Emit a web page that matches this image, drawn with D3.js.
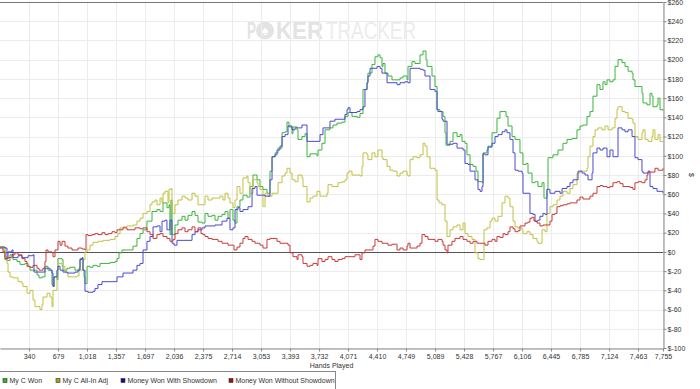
<!DOCTYPE html>
<html>
<head>
<meta charset="utf-8">
<script src="https://cdn.jsdelivr.net/npm/d3@7"></script>
<style>
    html, body { margin: 0; padding: 0; background: #fff; }
    svg { display: block; font-family: "Liberation Sans", Arial, sans-serif; }
</style>
</head>
<body>
<div id="chart"></div>
<script>
// tick labels
const handTicks = [340, 679, 1018, 1357, 1697, 2036, 2375, 2714, 3053, 3393, 3732, 4071,
    4410, 4749, 5089, 5428, 5767, 6106, 6445, 6785, 7124, 7463, 7755];
const dollarTicks = [-100, -80, -60, -40, -20, 0, 20, 40, 60, 80, 100, 120, 140,
    160, 180, 200, 220, 240, 260];

const seriesNames = ['My C Won', 'My C All-In Adj', 'Money Won With Showdown', 'Money Won Without Showdown'];

// [hand, $]
const myCWon = [[0,5],[35,5],[58,-8],[82,-9],[117,-3],[152,-8],[199,-10],[234,-13],[292,-12],[328,-15],
    [351,-19],[386,-19],[433,-24],[456,-27],[491,-26],[526,-15],[561,-19],[597,-19],[608,-34],[620,-36],
    [632,-26],[667,-29],[678,-7],[725,-8],[737,-19],[784,-17],[819,-16],[877,-19],[924,-17],[936,-7],
    [959,-7],[971,-19],[983,-26],[994,-33],[1018,-15],[1053,-16],[1088,-14],[1135,-15],[1170,-12],[1228,-12],
    [1287,-11],[1345,-10],[1369,-7],[1392,-1],[1427,2],[1486,2],[1556,6],[1602,14],[1638,19],[1673,23],
    [1719,32],[1778,42],[1836,44],[1872,42],[1907,51],[1953,46],[1977,49],[1988,18],[2000,54],[2012,18],
    [2047,28],[2082,33],[2129,37],[2164,33],[2199,38],[2246,42],[2281,38],[2316,31],[2363,30],[2398,40],
    [2433,37],[2480,38],[2515,33],[2550,37],[2597,39],[2632,42],[2667,35],[2690,44],[2725,33],[2749,30],
    [2772,47],[2807,54],[2842,59],[2889,57],[2924,68],[2959,80],[3006,75],[3041,68],[3076,65],[3123,61],
    [3158,84],[3182,99],[3217,103],[3252,108],[3299,124],[3334,125],[3357,135],[3380,130],[3416,123],[3427,130],
    [3474,127],[3486,117],[3532,120],[3568,123],[3591,99],[3626,102],[3708,100],[3720,106],[3766,113],[3802,127],
    [3860,129],[3895,132],[3942,134],[4000,135],[4035,141],[4071,145],[4117,141],[4176,140],[4211,144],[4246,169],
    [4293,176],[4304,186],[4351,195],[4386,203],[4421,205],[4445,202],[4468,193],[4480,196],[4503,186],[4538,183],
    [4585,179],[4679,181],[4714,183],[4761,179],[4772,193],[4819,198],[4854,196],[4913,205],[4948,209],[4983,200],
    [4995,193],[5053,183],[5088,172],[5112,148],[5147,146],[5182,141],[5205,124],[5217,111],[5264,115],[5299,124],
    [5346,120],[5381,122],[5404,115],[5439,113],[5462,101],[5498,91],[5533,89],[5568,84],[5591,73],[5638,72],
    [5650,103],[5696,106],[5708,110],[5755,124],[5813,139],[5848,146],[5884,146],[5919,141],[5942,131],[5989,120],
    [6024,117],[6059,117],[6082,103],[6117,91],[6153,92],[6176,82],[6223,72],[6258,73],[6293,68],[6340,72],
    [6363,56],[6398,65],[6410,98],[6468,101],[6527,106],[6585,113],[6632,117],[6691,118],[6749,127],[6784,131],
    [6819,132],[6866,141],[6901,146],[6936,162],[6983,174],[7018,169],[7053,177],[7077,174],[7100,179],[7135,177],
    [7170,179],[7194,193],[7229,200],[7276,197],[7311,193],[7346,188],[7393,186],[7404,179],[7427,172],[7463,172],
    [7509,165],[7521,155],[7568,153],[7603,165],[7626,162],[7638,151],[7685,153],[7697,160],[7720,148],[7755,147]];

const myCAllInAdj = [[0,4],[35,2],[58,-5],[82,-12],[94,-21],[117,-26],[152,-27],[211,-31],[257,-33],[269,-36],
    [316,-43],[351,-40],[386,-50],[409,-57],[444,-57],[468,-60],[491,-55],[503,-47],[550,-43],[585,-47],
    [608,-57],[620,-40],[667,-19],[678,-12],[725,-15],[760,-21],[795,-26],[842,-26],[901,-25],[924,-19],
    [959,-19],[971,-8],[994,0],[1018,2],[1053,7],[1088,10],[1146,11],[1205,12],[1287,13],[1345,16],
    [1380,19],[1404,25],[1439,26],[1486,27],[1556,28],[1602,32],[1638,35],[1673,40],[1719,42],[1755,49],
    [1778,52],[1813,54],[1836,49],[1872,56],[1895,51],[1907,61],[1930,63],[1965,51],[1977,65],[2000,66],
    [2012,40],[2047,49],[2082,54],[2129,58],[2164,56],[2199,54],[2246,61],[2281,58],[2316,49],[2363,49],
    [2398,58],[2433,54],[2480,56],[2515,56],[2573,58],[2608,54],[2632,61],[2667,56],[2690,51],[2725,46],
    [2749,54],[2772,68],[2807,61],[2842,77],[2889,79],[2901,72],[2924,61],[2959,75],[3006,72],[3018,68],
    [3041,65],[3076,47],[3100,61],[3135,58],[3182,61],[3217,61],[3252,72],[3299,79],[3334,82],[3357,87],
    [3392,82],[3416,75],[3451,73],[3486,80],[3532,77],[3544,68],[3591,52],[3626,56],[3661,58],[3708,63],
    [3743,58],[3778,58],[3825,61],[3837,70],[3883,68],[3918,68],[3954,72],[4000,73],[4035,75],[4059,82],
    [4082,84],[4117,80],[4152,80],[4211,79],[4234,89],[4246,103],[4293,101],[4304,96],[4351,103],[4386,99],
    [4421,106],[4468,98],[4480,96],[4527,89],[4562,85],[4597,84],[4644,79],[4679,82],[4714,84],[4761,80],
    [4772,79],[4796,96],[4831,99],[4878,98],[4913,101],[4948,113],[4971,110],[4995,99],[5030,87],[5088,85],
    [5112,54],[5135,51],[5170,49],[5205,32],[5229,16],[5264,23],[5299,26],[5346,28],[5381,23],[5416,30],
    [5439,19],[5474,16],[5521,13],[5556,-1],[5591,-7],[5615,-8],[5650,-8],[5661,23],[5696,25],[5732,32],
    [5755,35],[5790,32],[5825,37],[5872,51],[5907,58],[5942,56],[5965,47],[6001,32],[6024,26],[6059,25],
    [6106,23],[6117,19],[6164,21],[6199,18],[6234,14],[6281,11],[6293,9],[6340,23],[6375,21],[6398,40],
    [6433,47],[6468,49],[6515,54],[6550,58],[6585,63],[6632,61],[6667,66],[6702,70],[6749,82],[6784,84],
    [6819,84],[6866,87],[6878,99],[6901,110],[6936,120],[6960,127],[6995,129],[7042,127],[7077,131],[7112,127],
    [7159,129],[7194,139],[7217,148],[7229,151],[7276,146],[7311,145],[7346,139],[7393,138],[7404,134],[7427,120],
    [7463,117],[7509,124],[7521,127],[7545,117],[7580,115],[7626,120],[7638,127],[7661,117],[7697,122],[7720,115],
    [7755,115]];

const wonWithShowdown = [[0,5],[58,4],[82,-7],[94,0],[140,2],[152,-6],[211,-4],[257,-6],[316,-6],[328,-4],
    [386,-3],[398,-21],[503,-21],[526,-17],[561,-17],[585,-19],[608,-22],[620,-36],[632,-26],[667,-19],
    [678,-15],[702,-19],[737,-21],[784,-22],[877,-21],[912,-19],[936,-8],[959,-6],[971,-19],[994,-41],
    [1029,-42],[1088,-41],[1111,-38],[1146,-34],[1193,-31],[1322,-31],[1369,-26],[1404,-26],[1439,-22],[1497,-22],
    [1556,-19],[1602,-14],[1638,-12],[1673,2],[1719,11],[1755,16],[1790,26],[1836,27],[1872,21],[1895,32],
    [1930,33],[1953,23],[1977,23],[1988,33],[2012,9],[2035,7],[2070,12],[2222,12],[2246,18],[2281,21],
    [2316,23],[2363,25],[2398,27],[2515,28],[2597,32],[2655,35],[2690,23],[2725,25],[2749,44],[2784,46],
    [2807,42],[2842,44],[2901,47],[2948,66],[2983,68],[3006,59],[3065,59],[3100,58],[3135,58],[3158,75],
    [3182,99],[3217,101],[3240,106],[3275,110],[3299,120],[3334,122],[3369,131],[3416,127],[3451,129],[3509,129],
    [3532,132],[3568,132],[3591,115],[3720,115],[3743,122],[3778,129],[3837,129],[3860,136],[3918,138],[3977,138],
    [4035,143],[4059,148],[4071,150],[4094,145],[4129,145],[4176,146],[4211,148],[4246,151],[4269,169],[4293,176],
    [4304,183],[4328,191],[4363,191],[4410,193],[4445,191],[4468,186],[4503,186],[4527,176],[4562,176],[4644,174],
    [4679,176],[4737,177],[4772,176],[4796,191],[4831,191],[4878,191],[4913,190],[4948,189],[4971,183],[5006,183],
    [5030,169],[5065,169],[5088,167],[5112,148],[5123,146],[5170,138],[5182,136],[5229,112],[5264,112],[5299,113],
    [5346,108],[5381,108],[5416,106],[5439,92],[5474,91],[5498,84],[5533,84],[5556,75],[5591,65],[5615,63],
    [5638,68],[5650,102],[5673,101],[5708,109],[5755,113],[5790,120],[5825,122],[5872,125],[5907,127],[5930,124],
    [5965,117],[6001,103],[6024,85],[6059,84],[6106,82],[6117,61],[6176,61],[6199,40],[6234,39],[6258,32],
    [6293,33],[6316,37],[6351,40],[6375,39],[6398,65],[6433,61],[6492,63],[6550,61],[6574,66],[6632,68],
    [6667,72],[6702,75],[6749,75],[6761,84],[6808,82],[6843,80],[6878,75],[6925,82],[6936,103],[6983,108],
    [7018,106],[7053,108],[7100,99],[7135,106],[7170,99],[7194,99],[7229,129],[7276,127],[7311,125],[7346,127],
    [7393,120],[7427,98],[7463,96],[7509,84],[7521,82],[7568,82],[7580,84],[7603,68],[7638,66],[7685,63],
    [7755,61]];

const wonWithoutShowdown = [[0,4],[35,0],[58,-7],[94,-6],[140,-3],[175,-1],[211,-3],[257,-7],[292,-10],[316,-15],
    [351,-16],[386,-14],[433,-17],[456,-19],[503,-17],[526,-10],[538,2],[561,0],[608,-1],[620,-5],
    [643,2],[678,11],[702,7],[725,11],[760,6],[795,4],[842,2],[877,2],[912,4],[959,3],
    [994,2],[1006,18],[1029,17],[1076,18],[1111,19],[1146,18],[1193,20],[1228,18],[1263,19],[1310,21],
    [1345,20],[1369,23],[1404,23],[1439,25],[1486,23],[1544,23],[1579,25],[1638,24],[1673,25],[1719,21],
    [1755,18],[1790,14],[1836,18],[1872,19],[1907,16],[1953,14],[1988,11],[2024,13],[2047,19],[2082,23],
    [2129,25],[2164,21],[2199,23],[2246,26],[2281,21],[2316,25],[2351,19],[2374,18],[2398,16],[2433,14],
    [2480,13],[2515,13],[2550,11],[2597,9],[2632,9],[2667,7],[2714,7],[2737,2],[2772,5],[2807,9],
    [2842,14],[2866,16],[2901,13],[2948,11],[2983,9],[3041,7],[3076,4],[3123,13],[3158,14],[3193,14],
    [3240,11],[3275,9],[3334,9],[3369,7],[3392,-1],[3427,-5],[3474,-8],[3486,-3],[3532,-5],[3544,-12],
    [3591,-15],[3626,-14],[3661,-12],[3708,-14],[3720,-7],[3766,-10],[3802,-8],[3837,-5],[3883,-8],[3918,-10],
    [3954,-8],[4000,-7],[4035,-5],[4094,-5],[4152,-3],[4211,-8],[4234,-1],[4269,2],[4328,2],[4363,6],
    [4386,13],[4421,11],[4468,9],[4503,9],[4538,7],[4585,8],[4644,2],[4679,4],[4714,2],[4761,6],
    [4772,9],[4796,4],[4831,4],[4878,6],[4913,9],[4936,18],[4971,16],[5006,13],[5053,13],[5088,11],
    [5123,13],[5170,11],[5182,7],[5205,2],[5229,-1],[5240,7],[5287,11],[5322,14],[5357,14],[5381,16],
    [5416,13],[5462,11],[5498,9],[5533,11],[5579,9],[5638,9],[5673,7],[5708,11],[5755,13],[5790,11],
    [5813,16],[5848,15],[5884,19],[5907,18],[5942,21],[5965,26],[6001,24],[6024,21],[6059,22],[6082,27],
    [6106,27],[6141,30],[6176,31],[6199,35],[6223,36],[6246,32],[6281,30],[6316,27],[6351,28],[6398,28],
    [6433,32],[6457,39],[6492,40],[6515,47],[6550,48],[6585,49],[6632,50],[6667,51],[6702,51],[6749,54],
    [6784,57],[6819,55],[6866,55],[6901,58],[6936,61],[6983,68],[7018,69],[7053,68],[7100,67],[7135,68],
    [7170,72],[7217,73],[7252,71],[7287,68],[7334,68],[7369,67],[7404,65],[7427,72],[7463,73],[7509,72],
    [7545,75],[7568,80],[7580,83],[7626,83],[7661,87],[7697,85],[7755,87]];

const lineColors = ['#3cb43c', '#c2c143', '#4a4ad2', '#c83a3a'];
const legendColors = ['#22bb22', '#a9a800', '#10108f', '#a01010'];

const width = 700,
    height = 389,
    plotRight = 663,
    plotTop = 2,
    plotBottom = 348;

const x = d3.scaleLinear().domain([0, 7755]).range([0, plotRight]);
const y = d3.scaleLinear().domain([-100, 260]).range([plotBottom, plotTop]);

const svg = d3.select('#chart')
    .append('svg')
    .attr('width', width)
    .attr('height', height)
    .style('font-size', '7px');

// watermark
const wm = svg.append('g').attr('fill', '#e3e3e3');
wm.append('text').attr('x', 247).attr('y', 39).style('font-size', '24px').style('font-weight', 'bold')
    .attr('textLength', 9).attr('lengthAdjust', 'spacingAndGlyphs').text('P');
wm.append('circle').attr('cx', 265).attr('cy', 30.5).attr('r', 9);
wm.append('text').attr('x', 265).attr('y', 35).attr('text-anchor', 'middle').attr('fill', '#fff')
    .style('font-size', '13px').text('♠');
wm.append('text').attr('x', 276).attr('y', 39).style('font-size', '24px').style('font-weight', 'bold')
    .attr('textLength', 47).attr('lengthAdjust', 'spacingAndGlyphs').text('KER');
wm.append('text').attr('x', 326).attr('y', 39).attr('fill', '#ececec').style('font-size', '24px')
    .attr('textLength', 90).attr('lengthAdjust', 'spacingAndGlyphs').text('TRACKER');

// grid
svg.append('g')
    .selectAll('line')
    .data(dollarTicks)
    .join('line')
    .attr('x1', 0).attr('x2', plotRight)
    .attr('y1', d => Math.round(y(d)) + 0.5).attr('y2', d => Math.round(y(d)) + 0.5)
    .attr('stroke', '#ececec');

svg.append('g')
    .selectAll('line')
    .data(handTicks)
    .join('line')
    .attr('x1', d => Math.round(x(d)) + 0.5).attr('x2', d => Math.round(x(d)) + 0.5)
    .attr('y1', plotTop).attr('y2', plotBottom)
    .attr('stroke', '#ececec');

// top border and zero line
svg.append('line')
    .attr('x1', 0).attr('x2', plotRight)
    .attr('y1', Math.round(y(260)) + 0.5).attr('y2', Math.round(y(260)) + 0.5)
    .attr('stroke', '#777');

svg.append('line')
    .attr('x1', 0).attr('x2', plotRight)
    .attr('y1', Math.round(y(0)) + 0.5).attr('y2', Math.round(y(0)) + 0.5)
    .attr('stroke', '#555');

// series
const line = d3.line()
    .x(d => x(d[0]))
    .y(d => y(d[1]))
    .curve(d3.curveStepAfter);

const allSeries = [myCWon, myCAllInAdj, wonWithShowdown, wonWithoutShowdown];

svg.append('g')
    .selectAll('path')
    .data(allSeries)
    .join('path')
    .attr('fill', 'none')
    .attr('stroke', (d, i) => lineColors[i])
    .attr('stroke-width', 1)
    .attr('d', line);

// axes
const yAxis = svg.append('g')
    .attr('transform', `translate(${plotRight + 0.5},0)`)
    .call(d3.axisRight(y)
        .tickValues(dollarTicks)
        .tickSize(3)
        .tickSizeOuter(0)
        .tickPadding(1)
        .tickFormat(d => '$' + d));

const xAxis = svg.append('g')
    .attr('transform', `translate(0,${plotBottom + 0.5})`)
    .call(d3.axisBottom(x)
        .tickValues(handTicks)
        .tickSize(3)
        .tickSizeOuter(0)
        .tickPadding(2.5)
        .tickFormat(d3.format(',')));

[yAxis, xAxis].forEach(g => {
    g.attr('font-size', null).attr('font-family', null);
    g.select('.domain').attr('stroke', '#888');
    g.selectAll('.tick line').attr('stroke', '#888');
    g.selectAll('.tick text').attr('fill', '#333');
});

svg.append('text')
    .attr('x', plotRight / 2)
    .attr('y', 367.5)
    .attr('text-anchor', 'middle')
    .attr('fill', '#333')
    .text('Hands Played');

svg.append('text')
    .attr('transform', `translate(689,${(plotTop + plotBottom) / 2}) rotate(90)`)
    .attr('text-anchor', 'middle')
    .attr('fill', '#333')
    .text('$');

// legend
const legend = svg.append('g');
legend.append('rect')
    .attr('x', -1).attr('y', 371.5)
    .attr('width', 336.5).attr('height', 20)
    .attr('fill', '#fff')
    .attr('stroke', '#888');

const legendX = [3, 56, 121, 229];
const items = legend.selectAll('g')
    .data(seriesNames)
    .join('g')
    .attr('transform', (d, i) => `translate(${legendX[i]},378.5)`);

items.append('rect')
    .attr('width', 4).attr('height', 4)
    .attr('fill', (d, i) => legendColors[i])
    .attr('stroke', '#333')
    .attr('stroke-width', 0.6);

items.append('text')
    .attr('x', 6.5)
    .attr('y', 2)
    .attr('dy', '0.35em')
    .attr('fill', '#333')
    .text(d => d);
</script>
</body>
</html>
